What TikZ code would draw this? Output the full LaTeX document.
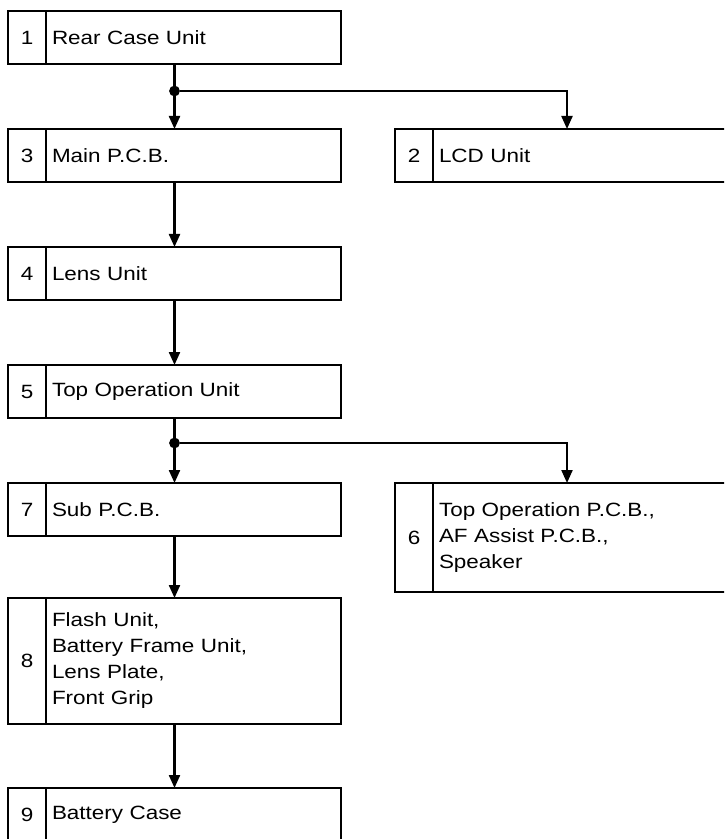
\documentclass[tikz,border=0pt]{standalone}
\usepackage{fontspec}
\setmainfont{Liberation Sans}[FakeStretch=1.17]
\usepackage{tikz}
\usetikzlibrary{arrows.meta, positioning}

\begin{document}
\begin{tikzpicture}[
        font=\fontsize{9.6pt}{13pt}\selectfont,
        unit/.style={draw, line width=1.2pt, minimum width=166.5pt, minimum height=26.5pt, text width=122.5pt, align=left, inner sep=0pt, outer sep=0pt,
            path picture={\draw[line width=1.2pt] ([xshift=19pt]path picture bounding box.north west) -- ([xshift=19pt]path picture bounding box.south west);}},
        wideunit/.style={unit, minimum width=172pt, text width=128pt},
        num/.style={inner sep=0pt},
        dot/.style={circle, fill, inner sep=0pt, minimum size=5.4pt},
        arrow/.style={-{Triangle[length=6.5pt, width=5.5pt]}, line width=1.1pt},
        node distance=32.5pt
    ]
    \useasboundingbox (0,0) rectangle (362pt,-419.5pt);
    \clip (0,0) rectangle (362pt,-419.5pt);
    % Nodes
    \node[unit, anchor=north west] (b1) at (4pt,-5.5pt) {Rear Case Unit};
    \node[unit, below=of b1] (b3) {Main P.C.B.};
    \node[wideunit, right=27pt of b3] (b2) {LCD Unit};
    \node[unit, below=of b3] (b4) {Lens Unit};
    \node[unit, below=of b4] (b5) {Top Operation Unit};
    \node[unit, below=of b5] (b7) {Sub P.C.B.};
    \node[wideunit, minimum height=54.5pt, below right=0pt and 27pt of b7.north east] (b6) {Top Operation P.C.B.,\\AF Assist P.C.B.,\\Speaker};
    \node[unit, minimum height=63pt, below=31pt of b7] (b8) {Flash Unit,\\Battery Frame Unit,\\Lens Plate,\\Front Grip};
    \node[unit, below=32pt of b8] (b9) {Battery Case};

    % Numbers
    \node[num] (n1) at ([xshift=9.5pt]b1.west) {1};
    \node[num] (n2) at ([xshift=9.5pt]b2.west) {2};
    \node[num] (n3) at ([xshift=9.5pt]b3.west) {3};
    \node[num] (n4) at ([xshift=9.5pt]b4.west) {4};
    \node[num] (n5) at ([xshift=9.5pt]b5.west) {5};
    \node[num] (n6) at ([xshift=9.5pt]b6.west) {6};
    \node[num] (n7) at ([xshift=9.5pt]b7.west) {7};
    \node[num] (n8) at ([xshift=9.5pt]b8.west) {8};
    \node[num] (n9) at ([xshift=9.5pt]b9.west) {9};

    % Junctions
    \node[dot] (j1) at ([yshift=-13.5pt]b1.south) {};
    \node[dot] (j5) at ([yshift=-12.5pt]b5.south) {};

    % Arrows
    \draw[arrow] (b1) -- (b3);
    \draw[arrow] (j1) -| (b2);
    \draw[arrow] (b3) -- (b4);
    \draw[arrow] (b4) -- (b5);
    \draw[arrow] (b5) -- (b7);
    \draw[arrow] (j5) -| (b6);
    \draw[arrow] (b7) -- (b8);
    \draw[arrow] (b8) -- (b9);
\end{tikzpicture}
\end{document}
